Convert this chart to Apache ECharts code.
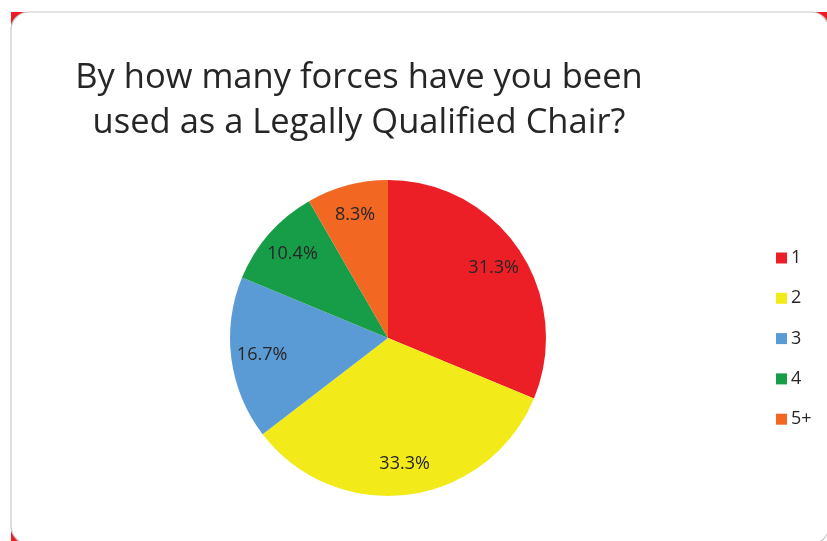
<!DOCTYPE html>
<html>
<head>
<meta charset="utf-8">
<script src="https://cdn.jsdelivr.net/npm/echarts@6/dist/echarts.min.js"></script>
<style>html,body{margin:0;padding:0;background:#fff;}#c{width:827px;height:541px;}</style>
</head>
<body>
<div id="c"></div>
<script>
const titleText = 'By how many forces have you been\nused as a Legally Qualified Chair?';
const categories = ['1', '2', '3', '4', '5+'];
const counts = [15, 16, 8, 5, 4];
const colors = ['#ED1F26', '#F2EA19', '#5B9BD5', '#179C48', '#F26722'];

const chart = echarts.init(document.getElementById('c'));
const data = categories.map((n, i) => ({ name: n, value: counts[i], itemStyle: { color: colors[i] } }));
const labelData = categories.map((n, i) => ({ name: n, value: counts[i] }));
const center = [388, 338];
const R = 158;
chart.setOption({
  animation: false,
  graphic: [
    { type: 'rect', shape: { x: 11, y: 12, width: 18, height: 18 }, style: { fill: '#ED1C24' }, z: 0 },
    { type: 'rect', shape: { x: 812, y: 12, width: 18, height: 18 }, style: { fill: '#ED1C24' }, z: 0 },
    { type: 'rect', shape: { x: 11, y: 526, width: 18, height: 18 }, style: { fill: '#ED1C24' }, z: 0 },
    { type: 'rect', shape: { x: 11, y: 12, width: 818, height: 532, r: 18 }, style: { fill: '#fff', stroke: '#C9C9C9', lineWidth: 1.2 }, z: 1 }
  ],
  title: {
    text: titleText,
    left: 354,
    top: 51,
    textAlign: 'center',
    textStyle: { fontFamily: 'Open Sans', fontSize: 34.5, fontWeight: 'normal', color: '#262626', lineHeight: 45 },
    z: 10
  },
  legend: {
    orient: 'vertical',
    left: 776,
    top: 249,
    padding: 0,
    itemWidth: 11,
    itemHeight: 11,
    itemGap: 22.3,
    icon: 'rect',
    data: categories,
    textStyle: { fontFamily: 'Open Sans', fontSize: 18, color: '#262626', lineHeight: 18, padding: [0, 0, 0, -1] },
    z: 10
  },
  series: [
    {
      type: 'pie',
      center: center,
      radius: [0, R],
      startAngle: 90,
      clockwise: true,
      data: data,
      label: { show: false },
      labelLine: { show: false },
      itemStyle: { borderWidth: 0 },
      emphasis: { disabled: true },
      z: 5
    },
    {
      type: 'pie',
      center: center,
      radius: [90, R],
      startAngle: 90,
      clockwise: true,
      percentPrecision: 1,
      data: labelData,
      silent: true,
      itemStyle: { color: 'rgba(0,0,0,0)', borderWidth: 0 },
      label: {
        show: true,
        position: 'inside',
        formatter: '{d}%',
        fontFamily: 'Open Sans',
        fontSize: 18,
        color: '#262626'
      },
      labelLine: { show: false },
      emphasis: { disabled: true },
      z: 6
    }
  ]
});
</script>
</body>
</html>
